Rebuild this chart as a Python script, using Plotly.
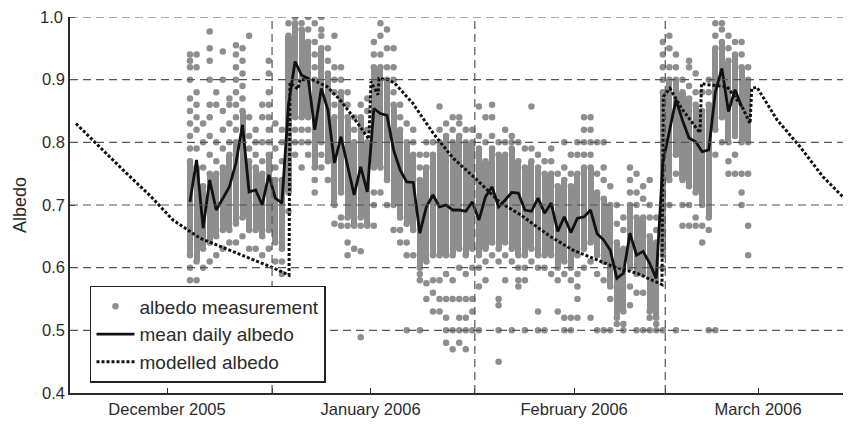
import pandas as pd
import plotly.graph_objects as go

# ---------------- data ----------------
# measurement days (one column of measurements per day)
meas_start = "2005-12-04"
meas_end = "2006-02-27"

# dense core of each day's measurement cloud (low / high albedo)
dec_lo = [.62, .61, .63, .64, .65, .66, .66, .67, .68, .66, .66, .65, .66, .64, .63,
          .72, .84, .84, .84, .76, .80, .77, .70, .72, .68, .67, .68, .67]
dec_hi = [.77, .76, .73, .75, .75, .76, .78, .80, .85, .77, .76, .75, .78, .74, .74,
          .97, .99, .98, .96, .90, .95, .91, .84, .88, .84, .80, .84, .80]
jan_lo = [.76, .76, .74, .70, .68, .67, .66,
          .60, .61, .62, .62, .62, .62, .63, .62, .63, .62, .63, .64, .63, .64, .63, .62,
          .62, .63, .62, .62, .62, .60, .61, .60]
jan_hi = [.92, .92, .90, .86, .82, .80, .78,
          .74, .76, .78, .80, .81, .80, .81, .80, .80, .79, .77, .79, .78, .78, .79, .77,
          .76, .77, .76, .75, .75, .73, .74, .73]
feb_lo = [.62, .63, .64, .62, .61, .57, .52, .53, .60, .59, .59, .53, .52, .62, .74, .78,
          .74, .73, .72, .70, .68, .82, .84, .80, .81, .80, .80]
feb_hi = [.75, .76, .76, .72, .71, .70, .64, .63, .70, .68, .68, .65, .64, .88, .90, .90,
          .88, .87, .86, .85, .86, .95, .96, .93, .94, .92, .90]

# scattered single measurements outside the dense core, per day
dec_extra = [
    [.58, .60, .79, .81, .83, .85, .87, .90, .92, .93, .94],
    [.58, .79, .82, .84, .86, .88, .92, .94],
    [.60, .76, .80, .83],
    [.61, .78, .81, .84, .86, .90, .93, .95, .977],
    [.62, .77, .80, .86, .88],
    [.63, .79, .82, .85, .90, .945],
    [.64, .80, .83, .86, .87],
    [.64, .82, .84, .86, .88, .90, .92, .94, .955],
    [.65, .87, .89, .91, .93, .95],
    [.63, .79, .81, .84, .97],
    [.63, .78, .80, .82],
    [.62, .77, .80, .84, .86],
    [.63, .80, .82, .84, .86, .88, .91, .93],
    [.61, .76, .79, .83],
    [.59, .61, .77, .80, .82],
    [.69, .99],
    [.78, .80, .82, 1.0],
    [.76, .80, .82, .99],
    [.78, .80, .82, .98, 1.0],
    [.72, .74, .92, .94, .96, .99],
    [.76, .78, .97, .98, 1.0],
    [.74, .93, .95],
    [.67, .86, .88, .90, .92, .97],
    [.68, .667, .90, .92],
    [.62, .64, .667, .86, .88],
    [.63, .667, .82, .84],
    [.626, .667, .86, .489],
    [.667, .82, .85, .87],
]
jan_extra = [
    [.70, .72, .94, .96, .667],
    [.72, .94, .97, .99],
    [.70, .92, .95, .98],
    [.66, .88, .90, .92, .95],
    [.64, .66, .84, .86],
    [.62, .64, .83, .50],
    [.62, .80, .82],
    [.58, .59, .76, .78, .50],
    [.575, .78, .80, .55],
    [.58, .80, .56, .53],
    [.58, .82, .857, .55, .53],
    [.59, .83, .55, .52, .48, .50],
    [.58, .82, .84, .55, .50, .47],
    [.60, .83, .84, .55, .52, .50, .48],
    [.59, .82, .55, .52, .50, .47],
    [.60, .82, .55, .53, .50],
    [.60, .81, .857, .57, .50],
    [.61, .80, .84, .58],
    [.62, .81, .84, .86],
    [.61, .80, .55, .54, .45, .50],
    [.62, .80, .82, .58],
    [.61, .80, .81, .50],
    [.60, .58, .80, .57],
    [.60, .79, .58, .50],
    [.61, .79, .857],
    [.60, .78, .53, .50],
    [.60, .77, .50],
    [.59, .77, .79],
    [.58, .75, .53],
    [.59, .76, .80, .52, .50],
    [.58, .75, .78, .52, .50],
]
feb_extra = [
    [.59, .57, .55, .52, .78, .80],
    [.60, .78, .80, .82, .84],
    [.61, .78, .80, .82, .84, .52],
    [.59, .75, .80, .50],
    [.58, .74, .76, .80, .50],
    [.55, .73, .50],
    [.51, .67, .70],
    [.51, .66, .68, .50],
    [.57, .72, .74, .76, .54],
    [.56, .70, .72, .75, .50],
    [.56, .71, .73, .50],
    [.52, .68, .70, .74, .50],
    [.51, .66, .68, .50],
    [.60, .90, .92, .94, .96, .50],
    [.70, .92, .95, .97],
    [.75, .92, .94, .50],
    [.70, .667, .90, .76],
    [.70, .667, .89, .92, .93],
    [.68, .667, .88, .91],
    [.667, .64, .88],
    [.66, .88, .90, .50],
    [.78, .97, .99, .50],
    [.80, .98, .99],
    [.77, .75, .95, .97],
    [.78, .75, .96],
    [.75, .72, .70, .94, .96],
    [.75, .667, .62, .92],
]

# mean daily albedo, Dec 4 2005 .. Feb 26 2006
mean_start = "2005-12-04"
mean_albedo = [
    .705, .772, .663, .740, .692, .711, .729, .767, .828, .721, .724, .700, .748, .711, .703,
    .860, .929, .907, .902, .820, .886, .852, .767, .809, .761, .716, .761, .721,
    .854, .846, .843, .788, .756, .737, .736, .655, .697, .716, .697, .700, .692, .692,
    .690, .705, .676, .713, .729, .697, .708, .720, .719, .692, .690, .711, .687, .703,
    .658, .681, .656,
    .679, .681, .692, .654, .644, .628, .583, .591, .655, .620, .626, .607, .583,
    .767, .820, .868, .835, .807, .801, .785, .788, .880, .918, .849, .884, .857,
]

# modelled albedo
model_time = [
    "2005-11-17 03:20", "2005-11-20 19:00", "2005-11-24 07:00", "2005-11-28 10:00",
    "2005-12-01 22:00", "2005-12-06 01:00", "2005-12-11 01:00", "2005-12-17 03:00",
    "2005-12-19 14:00", "2005-12-19 17:30", "2005-12-20 23:00", "2005-12-21 06:00",
    "2005-12-23 02:00", "2005-12-25 08:40", "2005-12-27 08:00", "2005-12-29 07:40",
    "2005-12-31 18:00", "2006-01-01 01:30", "2006-01-02 03:00", "2006-01-02 07:00",
    "2006-01-03 15:40", "2006-01-04 17:00", "2006-01-07 11:00", "2006-01-10 12:00",
    "2006-01-13 13:00", "2006-01-17 05:00", "2006-01-20 17:00", "2006-01-23 18:00",
    "2006-01-28 08:00", "2006-01-31 20:00", "2006-02-06 22:00", "2006-02-10 14:00",
    "2006-02-14 09:00", "2006-02-14 14:00", "2006-02-15 14:00", "2006-02-17 12:00",
    "2006-02-20 04:00", "2006-02-20 09:30", "2006-02-21 05:00", "2006-02-24 06:30",
    "2006-02-26 13:30", "2006-02-27 19:00", "2006-02-28 01:00", "2006-02-28 20:00",
    "2006-03-03 21:30", "2006-03-07 09:30", "2006-03-10 21:30", "2006-03-14 13:00",
    "2006-03-15 04:00",
]
model_albedo = [
    .830, .792, .756, .715,
    .676, .647, .626, .600,
    .588, .895, .885, .900,
    .900, .889, .868, .841,
    .805, .897, .876, .902,
    .900, .894, .862, .815,
    .775, .740, .704, .685,
    .650, .628, .602, .591,
    .573, .873, .886, .852,
    .815, .894, .892, .889,
    .857, .830, .886, .888,
    .836, .793, .745, .708,
    .700,
]

# axes
x_range = ["2005-11-16 05:30", "2006-03-15 03:50"]
x_tickvals = ["2005-12-01", "2005-12-17", "2006-01-01", "2006-01-16 21:00",
              "2006-02-01", "2006-02-14 21:00", "2006-03-01"]
x_ticktext = ["December 2005", "", "January 2006", "", "February 2006", "", "March 2006"]
x_gridvals = ["2005-12-17", "2006-01-16 21:00", "2006-02-14 21:00"]
y_tickvals = [0.4, 0.5, 0.6, 0.7, 0.8, 0.9, 1.0]
y_gridvals = [0.5, 0.6, 0.7, 0.8, 0.9, 1.0]

# ---------------- build figure ----------------
days = pd.date_range(meas_start, meas_end, freq="D") + pd.Timedelta(hours=12)
core_lo = dec_lo + jan_lo + feb_lo
core_hi = dec_hi + jan_hi + feb_hi
extras = dec_extra + jan_extra + feb_extra

# individual measurement dots: the edges of each day's dense cloud plus the
# scattered values
pt_x, pt_y = [], []
for d, lo, hi, vals in zip(days, core_lo, core_hi, extras):
    for v in [lo, hi] + vals:
        pt_x.append(d)
        pt_y.append(v)

mean_days = pd.date_range(mean_start, periods=len(mean_albedo), freq="D") + pd.Timedelta(hours=12)

GRAY = "#8e8e8e"
INK = "#2b2b2b"
FONT = "Liberation Sans, Arial, Helvetica, sans-serif"
TICK_SIZE = 16.5

fig = go.Figure()
fig.add_trace(go.Bar(
    x=days, y=[h - l for l, h in zip(core_lo, core_hi)], base=core_lo,
    width=0.92 * 86400000, marker=dict(color=GRAY, line=dict(width=0)),
    showlegend=False, hoverinfo="skip"))
fig.add_trace(go.Scatter(
    x=pt_x, y=pt_y, mode="markers", name="albedo measurement",
    marker=dict(color=GRAY, size=6.5, line=dict(width=0))))
fig.add_trace(go.Scatter(
    x=mean_days, y=mean_albedo, mode="lines", name="mean daily albedo",
    line=dict(color="#111111", width=2.8)))
fig.add_trace(go.Scatter(
    x=pd.to_datetime(model_time), y=model_albedo, mode="lines", name="modelled albedo",
    line=dict(color="#111111", width=3, dash="3px,2px")))

shapes = []
for v in y_gridvals:
    shapes.append(dict(type="line", xref="paper", x0=0, x1=1, yref="y", y0=v, y1=v,
                       line=dict(color="#555555", width=1.2, dash="8px,5px")))
for xv in x_gridvals:
    shapes.append(dict(type="line", xref="x", x0=xv, x1=xv, yref="paper", y0=0, y1=1,
                       line=dict(color="#555555", width=1.2, dash="8px,5px")))

# y tick labels (the top one is written as an annotation so it is not culled
# at the top edge of the figure)
y_ticktext = [f"{v:.1f}" for v in y_tickvals]
annotations = [dict(text="Albedo", textangle=-90, xref="paper", yref="paper",
                    x=0, y=0.5, xanchor="center", yanchor="middle", xshift=-50,
                    showarrow=False, font=dict(size=18, color=INK))]
annotations.append(dict(text=y_ticktext[-1], xref="paper", yref="y", x=0, y=y_tickvals[-1],
                        xanchor="right", yanchor="middle", xshift=-5, showarrow=False,
                        font=dict(size=TICK_SIZE, color=INK)))

# the page body adds an 8 px offset, so the figure is 8 px smaller
fig.update_layout(
    width=843, height=417,
    margin=dict(l=62, r=0, t=9, b=32),
    paper_bgcolor="white", plot_bgcolor="white",
    font=dict(family=FONT, size=TICK_SIZE, color=INK),
    shapes=shapes,
    showlegend=True,
    legend=dict(x=0.0256, y=0.2846, xanchor="left", yanchor="top",
                bgcolor="white", bordercolor="#222222", borderwidth=1.5,
                font=dict(size=19, color=INK), itemwidth=38,
                tracegroupgap=0),
    annotations=annotations,
    bargap=0,
)
fig.update_xaxes(type="date", range=x_range, tickvals=x_tickvals, ticktext=x_ticktext,
                 ticks="inside", ticklen=5, tickwidth=1.2, tickcolor=INK,
                 showline=True, linecolor=INK, linewidth=1.5,
                 showgrid=False, zeroline=False, tickfont=dict(size=TICK_SIZE, color=INK))
fig.update_yaxes(range=[0.4, 1.0], tickvals=y_tickvals[:-1], ticktext=y_ticktext[:-1],
                 ticks="inside", ticklen=5, tickwidth=1.2, tickcolor=INK,
                 showline=True, linecolor=INK, linewidth=1.5,
                 showgrid=False, zeroline=False, tickfont=dict(size=TICK_SIZE, color=INK))
fig.add_shape(type="line", xref="paper", x0=0, x1=0.0064, yref="y", y0=1.0, y1=1.0,
              line=dict(color=INK, width=1.2))

fig.write_html("out.html")
